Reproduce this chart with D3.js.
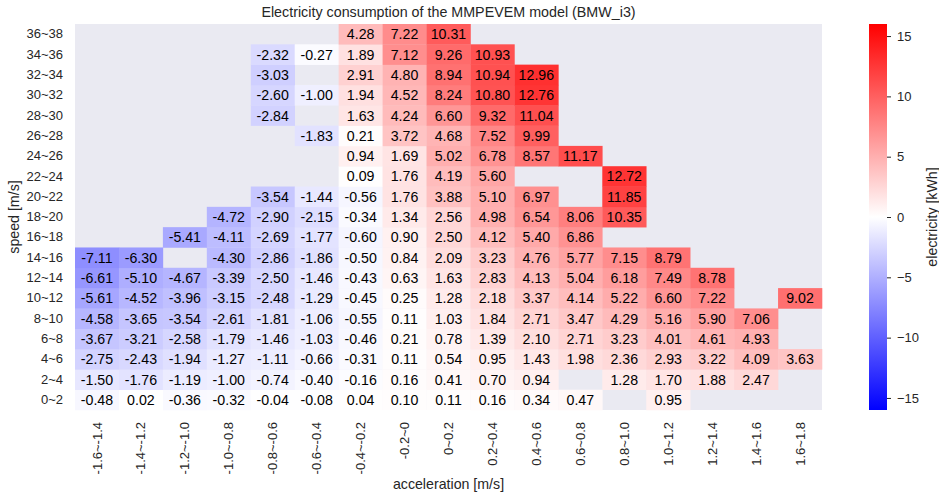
<!DOCTYPE html>
<html>
<head>
<meta charset="utf-8">
<script src="https://cdn.jsdelivr.net/npm/d3@7"></script>
<style>
  body { margin: 0; background: #fff; }
  text { font-family: "Liberation Sans", Arial, sans-serif; fill: #262626; }
</style>
</head>
<body>
<svg id="chart" width="939" height="497"></svg>
<script>
// acceleration bins (columns) and speed bins (rows, bottom to top)
const accelBins = ["-1.6~-1.4","-1.4~-1.2","-1.2~-1.0","-1.0~-0.8","-0.8~-0.6","-0.6~-0.4","-0.4~-0.2","-0.2~0",
  "0~0.2","0.2~0.4","0.4~0.6","0.6~0.8","0.8~1.0","1.0~1.2","1.2~1.4","1.4~1.6","1.6~1.8"];
const speedBins = ["0~2","2~4","4~6","6~8","8~10","10~12","12~14","14~16","16~18","18~20",
  "20~22","22~24","24~26","26~28","28~30","30~32","32~34","34~36","36~38"];
const colorTicks = [-15, -10, -5, 0, 5, 10, 15];

// electricity [kWh], one row per speed bin (same order as speedBins), null = no data
const _ = null;
const consumption = [
  [-0.48, 0.02,-0.36,-0.32,-0.04,-0.08, 0.04, 0.10, 0.11, 0.16, 0.34, 0.47,    _, 0.95,    _,    _,    _],
  [-1.50,-1.76,-1.19,-1.00,-0.74,-0.40,-0.16, 0.16, 0.41, 0.70, 0.94,    _, 1.28, 1.70, 1.88, 2.47,    _],
  [-2.75,-2.43,-1.94,-1.27,-1.11,-0.66,-0.31, 0.11, 0.54, 0.95, 1.43, 1.98, 2.36, 2.93, 3.22, 4.09, 3.63],
  [-3.67,-3.21,-2.58,-1.79,-1.46,-1.03,-0.46, 0.21, 0.78, 1.39, 2.10, 2.71, 3.23, 4.01, 4.61, 4.93,    _],
  [-4.58,-3.65,-3.54,-2.61,-1.81,-1.06,-0.55, 0.11, 1.03, 1.84, 2.71, 3.47, 4.29, 5.16, 5.90, 7.06,    _],
  [-5.61,-4.52,-3.96,-3.15,-2.48,-1.29,-0.45, 0.25, 1.28, 2.18, 3.37, 4.14, 5.22, 6.60, 7.22,    _, 9.02],
  [-6.61,-5.10,-4.67,-3.39,-2.50,-1.46,-0.43, 0.63, 1.63, 2.83, 4.13, 5.04, 6.18, 7.49, 8.78,    _,    _],
  [-7.11,-6.30,    _,-4.30,-2.86,-1.86,-0.50, 0.84, 2.09, 3.23, 4.76, 5.77, 7.15, 8.79,    _,    _,    _],
  [    _,    _,-5.41,-4.11,-2.69,-1.77,-0.60, 0.90, 2.50, 4.12, 5.40, 6.86,    _,    _,    _,    _,    _],
  [    _,    _,    _,-4.72,-2.90,-2.15,-0.34, 1.34, 2.56, 4.98, 6.54, 8.06,10.35,    _,    _,    _,    _],
  [    _,    _,    _,    _,-3.54,-1.44,-0.56, 1.76, 3.88, 5.10, 6.97,    _,11.85,    _,    _,    _,    _],
  [    _,    _,    _,    _,    _,    _, 0.09, 1.76, 4.19, 5.60,    _,    _,12.72,    _,    _,    _,    _],
  [    _,    _,    _,    _,    _,    _, 0.94, 1.69, 5.02, 6.78, 8.57,11.17,    _,    _,    _,    _,    _],
  [    _,    _,    _,    _,    _,-1.83, 0.21, 3.72, 4.68, 7.52, 9.99,    _,    _,    _,    _,    _,    _],
  [    _,    _,    _,    _,-2.84,    _, 1.63, 4.24, 6.60, 9.32,11.04,    _,    _,    _,    _,    _,    _],
  [    _,    _,    _,    _,-2.60,-1.00, 1.94, 4.52, 8.24,10.80,12.76,    _,    _,    _,    _,    _,    _],
  [    _,    _,    _,    _,-3.03,    _, 2.91, 4.80, 8.94,10.94,12.96,    _,    _,    _,    _,    _,    _],
  [    _,    _,    _,    _,-2.32,-0.27, 1.89, 7.12, 9.26,10.93,    _,    _,    _,    _,    _,    _,    _],
  [    _,    _,    _,    _,    _,    _, 4.28, 7.22,10.31,    _,    _,    _,    _,    _,    _,    _,    _]
];

const svg = d3.select('#chart');
const margin = {left: 75, top: 24, right: 117, bottom: 87};
const width = 939 - margin.left - margin.right;
const height = 497 - margin.top - margin.bottom;

const x = d3.scaleBand().domain(accelBins).range([0, width]);
const y = d3.scaleBand().domain(speedBins.slice().reverse()).range([0, height]);
// matplotlib "bwr", vmin -16 / vmax 16
const color = d3.scaleLinear().domain([-16, 0, 16]).range(['#0000ff', '#ffffff', '#ff0000']);

const cells = [];
consumption.forEach((row, i) => row.forEach((v, j) => {
  if (v !== null) cells.push({speed: speedBins[i], accel: accelBins[j], value: v});
}));

const g = svg.append('g').attr('transform', `translate(${margin.left},${margin.top})`);
g.append('rect').attr('width', width).attr('height', height).attr('fill', '#eaeaf2');

g.selectAll('rect.cell').data(cells).enter().append('rect')
  .attr('class', 'cell')
  .attr('x', d => x(d.accel))
  .attr('y', d => y(d.speed))
  .attr('width', x.bandwidth() + 0.3)
  .attr('height', y.bandwidth() + 0.3)
  .attr('fill', d => color(d.value));

g.selectAll('text.annot').data(cells).enter().append('text')
  .attr('class', 'annot')
  .attr('x', d => x(d.accel) + x.bandwidth() / 2)
  .attr('y', d => y(d.speed) + y.bandwidth() / 2)
  .attr('dy', '0.36em')
  .attr('text-anchor', 'middle')
  .attr('font-size', 14.2)
  .style('fill', '#000')
  .text(d => d.value.toFixed(2));

// axes (seaborn style: no tick lines, no domain)
const yAxis = g.append('g').call(d3.axisLeft(y).tickSize(0).tickPadding(12));
yAxis.select('.domain').remove();
yAxis.selectAll('text').attr('font-size', 13).style('fill', '#262626');

const xAxis = g.append('g').attr('transform', `translate(0,${height})`)
  .call(d3.axisBottom(x).tickSize(0));
xAxis.select('.domain').remove();
xAxis.selectAll('text')
  .attr('font-size', 13)
  .style('fill', '#262626')
  .attr('text-anchor', 'end')
  .attr('transform', 'rotate(-90)')
  .attr('x', -12)
  .attr('y', 0)
  .attr('dy', '0.35em');

svg.append('text')
  .attr('x', margin.left + width / 2).attr('y', 17)
  .attr('text-anchor', 'middle').attr('font-size', 14.3)
  .text('Electricity consumption of the MMPEVEM model (BMW_i3)');

svg.append('text')
  .attr('x', margin.left + width / 2).attr('y', 489)
  .attr('text-anchor', 'middle').attr('font-size', 14.2)
  .text('acceleration [m/s]');

svg.append('text')
  .attr('transform', `translate(19,${margin.top + height / 2}) rotate(-90)`)
  .attr('text-anchor', 'middle').attr('font-size', 14.2)
  .text('speed [m/s]');

// colorbar
const cbX = 869, cbW = 18;
const cbScale = d3.scaleLinear().domain([-16, 16]).range([margin.top + height, margin.top]);
const defs = svg.append('defs');
const grad = defs.append('linearGradient').attr('id', 'bwr')
  .attr('x1', 0).attr('y1', 1).attr('x2', 0).attr('y2', 0);
[-16, 0, 16].forEach(v => grad.append('stop')
  .attr('offset', (v + 16) / 32).attr('stop-color', color(v)));
svg.append('rect').attr('x', cbX).attr('y', margin.top)
  .attr('width', cbW).attr('height', height).attr('fill', 'url(#bwr)');

const cbAxis = svg.append('g').attr('transform', `translate(${cbX + cbW},0)`)
  .call(d3.axisRight(cbScale).tickValues(colorTicks).tickSize(4).tickPadding(6)
    .tickFormat(d => d < 0 ? '\u2212' + Math.abs(d) : String(d)));
cbAxis.select('.domain').remove();
cbAxis.selectAll('line').attr('stroke', '#262626');
cbAxis.selectAll('text').attr('font-size', 13).style('fill', '#262626');

svg.append('text')
  .attr('transform', `translate(937,${margin.top + height / 2}) rotate(-90)`)
  .attr('text-anchor', 'middle').attr('font-size', 14.2)
  .text('electricity [kWh]');
</script>
</body>
</html>
